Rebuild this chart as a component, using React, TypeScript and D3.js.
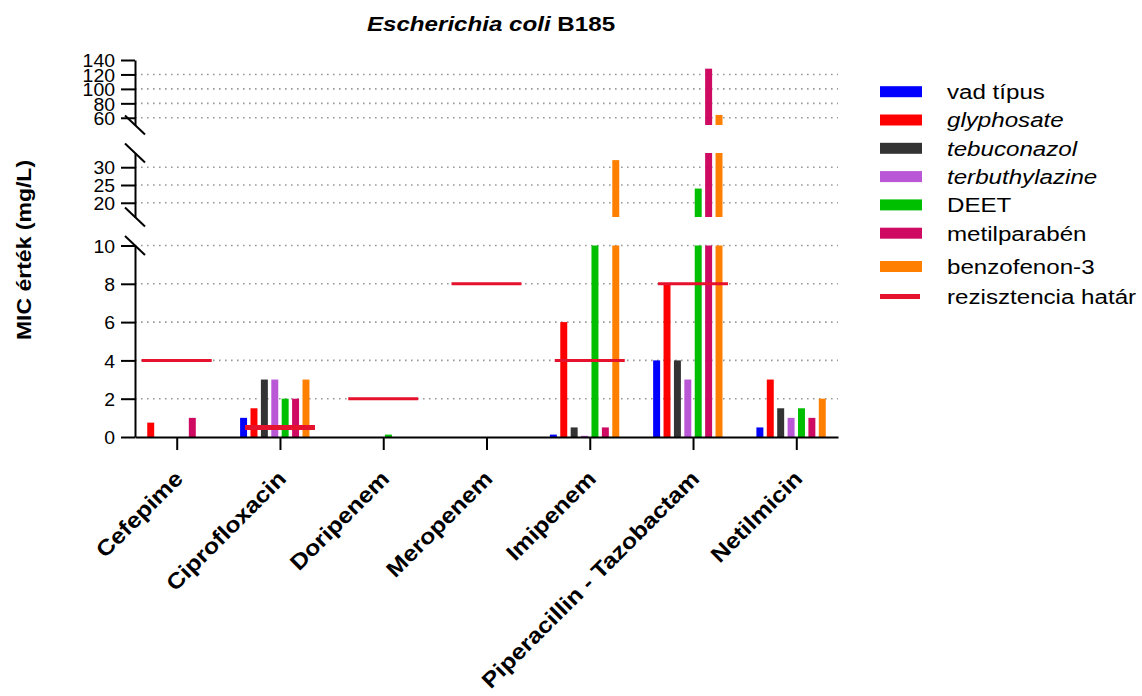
import React, { useEffect, useRef } from 'react';
import * as d3 from 'd3';

const categories = ['Cefepime', 'Ciprofloxacin', 'Doripenem', 'Meropenem', 'Imipenem', 'Piperacillin - Tazobactam', 'Netilmicin'];
const seriesNames = ['vad típus', 'glyphosate', 'tebuconazol', 'terbuthylazine', 'DEET', 'metilparabén', 'benzofenon-3'];
const italicSeries = ['glyphosate', 'tebuconazol', 'terbuthylazine'];
const seriesColors = ['#0000ff', '#ff0000', '#333333', '#b957d6', '#00bf00', '#cf0a63', '#ff8000'];

const vadTipus = [0, 1, 0, 0, 0.125, 4, 0.5];
const glyphosate = [0.75, 1.5, 0, 0, 6, 8, 3];
const tebuconazol = [0, 3, 0, 0, 0.5, 4, 1.5];
const terbuthylazine = [0, 3, 0, 0, 0.0625, 3, 1];
const deet = [0, 2, 0.125, 0, 16, 24, 1.5];
const metilparaben = [1, 2, 0, 0, 0.5, 128, 1];
const benzofenon = [0, 3, 0, 0, 32, 64, 2];
const resistanceLimit = [4, 0.5, 2, 8, 4, 8, null];

const lowTicks = [0, 2, 4, 6, 8, 10];
const midTicks = [20, 25, 30];
const highTicks = [60, 80, 100, 120, 140];

const limitLabel = 'rezisztencia határ';
const limitColor = '#e6112d';
const SX = 1.15; // the original font is a bit wider than Arial
const FONT = '"Liberation Sans", Arial, sans-serif';

const App = () => {
  const svgRef = useRef(null);

  useEffect(() => {
    const svg = d3.select(svgRef.current);
    svg.selectAll('*').remove();

    const values = [vadTipus, glyphosate, tebuconazol, terbuthylazine, deet, metilparaben, benzofenon];
    const left = 135;
    const right = 838;

    const x = d3.scalePoint().domain(categories).range([left, right]).padding(0.404);
    const slot = d3.scaleBand()
      .domain([...seriesNames, 'limit'])
      .range([-41.6, 41.6])
      .paddingInner(0.33)
      .paddingOuter(0.165);

    const segments = [
      { y: d3.scaleLinear().domain([0, 10]).range([437, 245.5]), ticks: lowTicks, breakTop: true, breakBottom: false },
      { y: d3.scaleLinear().domain([16, 34]).range([217, 153]), ticks: midTicks, breakTop: true, breakBottom: true },
      { y: d3.scaleLinear().domain([50, 140]).range([125, 60]), ticks: highTicks, breakTop: false, breakBottom: true },
    ];

    // gridlines
    segments.forEach(seg => {
      svg.append('g')
        .selectAll('line')
        .data(seg.ticks.filter(t => t !== 0 && t !== 140))
        .enter()
        .append('line')
        .attr('x1', left)
        .attr('x2', right)
        .attr('y1', d => seg.y(d))
        .attr('y2', d => seg.y(d))
        .attr('stroke', '#999')
        .attr('stroke-width', 1.6)
        .attr('stroke-dasharray', '1.6,4.4');
    });

    // bars, cut into pieces by the axis breaks
    const pieces = [];
    values.forEach((arr, i) => {
      arr.forEach((v, j) => {
        segments.forEach(seg => {
          const [d0, d1] = seg.y.domain();
          if (v > d0) {
            pieces.push({ i, cat: categories[j], top: seg.y(Math.min(v, d1)), bottom: seg.y(d0) });
          }
        });
      });
    });

    svg.append('g')
      .selectAll('rect')
      .data(pieces)
      .enter()
      .append('rect')
      .attr('x', d => x(d.cat) + slot(seriesNames[d.i]))
      .attr('y', d => d.top)
      .attr('width', slot.bandwidth())
      .attr('height', d => d.bottom - d.top)
      .attr('fill', d => seriesColors[d.i]);

    // resistance limits
    const limits = categories
      .map((c, j) => ({ cat: c, v: resistanceLimit[j] }))
      .filter(d => d.v !== null);

    svg.append('g')
      .selectAll('line')
      .data(limits)
      .enter()
      .append('line')
      .attr('x1', d => x(d.cat) - 35)
      .attr('x2', d => x(d.cat) + 35)
      .attr('y1', d => segments[0].y(d.v))
      .attr('y2', d => segments[0].y(d.v))
      .attr('stroke', limitColor)
      .attr('stroke-width', d => (d.cat === 'Ciprofloxacin' ? 5 : 3));

    // y axis segments
    segments.forEach(seg => {
      const g = svg.append('g')
        .attr('transform', `translate(${left},0)`)
        .call(d3.axisLeft(seg.y).tickValues(seg.ticks).tickSize(14).tickSizeOuter(0));
      g.select('.domain').attr('stroke', '#000').attr('stroke-width', 2);
      g.selectAll('.tick line').attr('stroke', '#000').attr('stroke-width', 2);
      g.selectAll('.tick text')
        .attr('x', null)
        .attr('dy', '0.36em')
        .attr('transform', 'translate(-20,0) scale(1.05,1)')
        .attr('fill', '#000')
        .style('font-family', FONT)
        .style('font-size', '18.5px');

      const [r0, r1] = seg.y.range();
      const ends = [];
      if (seg.breakBottom) ends.push(r0);
      if (seg.breakTop) ends.push(r1);
      svg.append('g')
        .selectAll('line')
        .data(ends)
        .enter()
        .append('line')
        .attr('x1', left - 10)
        .attr('x2', left + 10)
        .attr('y1', d => d - 9.5)
        .attr('y2', d => d + 9.5)
        .attr('stroke', '#000')
        .attr('stroke-width', 2);
    });

    // x axis
    const gx = svg.append('g')
      .attr('transform', `translate(0,${segments[0].y(0)})`)
      .call(d3.axisBottom(x).tickSize(13).tickSizeOuter(0));
    gx.select('.domain').attr('stroke', '#000').attr('stroke-width', 2);
    gx.selectAll('.tick line').attr('stroke', '#000').attr('stroke-width', 2);
    gx.selectAll('.tick text')
      .attr('y', null)
      .attr('dy', null)
      .attr('text-anchor', 'end')
      .attr('transform', 'translate(7,43) rotate(-45) scale(1.13,1)')
      .attr('fill', '#000')
      .style('font-family', FONT)
      .style('font-weight', 'bold')
      .style('font-size', '22px');

    // title
    const title = svg.append('text')
      .attr('transform', `translate(491,31) scale(${SX},1)`)
      .attr('text-anchor', 'middle')
      .style('font-family', FONT)
      .style('font-weight', 'bold')
      .style('font-size', '21px');
    title.append('tspan').style('font-style', 'italic').text('Escherichia coli');
    title.append('tspan').text(' B185');

    // y label
    svg.append('text')
      .attr('transform', `translate(31,250) rotate(-90) scale(${SX},1)`)
      .attr('text-anchor', 'middle')
      .style('font-family', FONT)
      .style('font-weight', 'bold')
      .style('font-size', '20px')
      .text('MIC érték (mg/L)');

    // legend
    const legendItems = [...seriesNames, limitLabel];
    const rowY = i => 91.7 + i * 28.3 + (i >= 6 ? 5 : 0) + (i >= 7 ? 1.6 : 0);
    const legend = svg.append('g')
      .selectAll('g')
      .data(legendItems)
      .enter()
      .append('g')
      .attr('transform', (d, i) => `translate(880,${rowY(i)})`);

    legend.filter(d => d !== limitLabel)
      .append('rect')
      .attr('x', 0)
      .attr('y', -5.5)
      .attr('width', 42)
      .attr('height', 11)
      .attr('fill', (d, i) => seriesColors[i]);

    legend.filter(d => d === limitLabel)
      .append('line')
      .attr('x1', 0)
      .attr('x2', 40)
      .attr('stroke', limitColor)
      .attr('stroke-width', 5);

    legend.append('text')
      .attr('transform', `translate(67,0) scale(${SX},1)`)
      .attr('dy', '0.35em')
      .style('font-family', FONT)
      .style('font-size', '21px')
      .style('font-style', d => (italicSeries.includes(d) ? 'italic' : 'normal'))
      .text(d => d);
  }, []);

  return (
    <svg
      ref={svgRef}
      width={1142}
      height={696}
      style={{ position: 'absolute', left: 0, top: 0, background: '#fff' }}
    />
  );
};

export default App;
